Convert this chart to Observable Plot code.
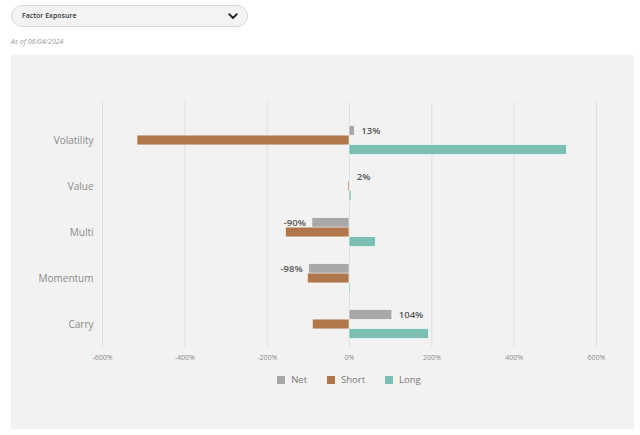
<!DOCTYPE html>
<html>
<head>
<meta charset="utf-8">
<script src="https://cdn.jsdelivr.net/npm/d3@7"></script>
<script src="https://cdn.jsdelivr.net/npm/@observablehq/plot@0.6"></script>
<style>
  html, body { margin: 0; padding: 0; background: #ffffff; }
  body { width: 640px; height: 435px; position: relative; overflow: hidden; font-family: "Open Sans", "Noto Sans", sans-serif; }
  #dropdown { position: absolute; left: 11px; top: 5px; width: 235px; height: 20px; border: 1px solid #d6d6d6; border-radius: 11px; background: #f3f3f3; }
  #dropdown .lbl { position: absolute; left: 10px; top: 0; line-height: 20px; font-size: 7px; font-weight: 600; color: #333; }
  #dropdown svg { position: absolute; left: 216px; top: 7px; }
  #asof { position: absolute; left: 11px; top: 37px; font-size: 7px; font-style: italic; color: #9a9a9a; line-height: 10px; }
  #panel { position: absolute; left: 11px; top: 55px; width: 623px; height: 374px; background: #f2f2f2; }
  #chart { position: absolute; left: 0; top: 0; }
  #legend { position: absolute; left: 91px; width: 494px; top: 308px; display: flex; justify-content: center; }
  .lg-swatch { margin-right: 20px !important; color: #777; }
  .lg-swatch:last-child { margin-right: 0 !important; }
  .lg-swatch svg { margin-right: 6px !important; }
</style>
</head>
<body>
<div id="dropdown"><span class="lbl">Factor Exposure</span>
  <svg width="10" height="7" viewBox="0 0 10 7"><polyline points="1.2,1.2 5,5 8.8,1.2" fill="none" stroke="#222" stroke-width="1.9" stroke-linecap="round" stroke-linejoin="round"/></svg>
</div>
<div id="asof">As of 06/04/2024</div>
<div id="panel"><div id="chart"></div><div id="legend"></div></div>
<script>
// ---- data ----
const categories = ["Volatility", "Value", "Multi", "Momentum", "Carry"];
const series = ["Net", "Short", "Long"];
const netValues = [13, 2, -90, -98, 104];
const shortValues = [-515, -3, -154, -101, -89];
const longValues = [528, 5, 64, 3, 193];
const xTicks = [-600, -400, -200, 0, 200, 400, 600];
const colors = ["#a8a8ab", "#b0784a", "#79c0b2"];

const rows = categories.map((c, i) => ({
  category: c, Net: netValues[i], Short: shortValues[i], Long: longValues[i]
}));

const pct = d => d + "%";
const barStyle = { stroke: "#ffffff", strokeOpacity: 0.7, strokeWidth: 0.8 };

const chart = Plot.plot({
  width: 623,
  height: 320,
  marginLeft: 91,
  marginRight: 38,
  marginTop: 47,
  marginBottom: 28,
  style: { background: "transparent", fontFamily: "'Open Sans', 'Noto Sans', sans-serif", overflow: "visible" },
  x: { domain: [-600, 600], label: null },
  y: { domain: categories, range: [61.4, 292.4], padding: 0, label: null },
  color: { domain: series, range: colors },
  marks: [
    Plot.gridX(xTicks, { stroke: "#dedede", strokeOpacity: 1, strokeWidth: 1 }),
    Plot.axisX(xTicks, { tickSize: 0, tickPadding: 8, fontSize: 7, fill: "#8a8a8a", tickFormat: pct }),
    Plot.axisY({ tickSize: 0, tickPadding: 9, fontSize: 10, fill: "#8a8a8a" }),
    Plot.barX(rows, { y: "category", x: "Net", fill: () => "Net", insetTop: 8.6, insetBottom: 27.6, ...barStyle }),
    Plot.barX(rows, { y: "category", x: "Short", fill: () => "Short", insetTop: 18.1, insetBottom: 18.1, ...barStyle }),
    Plot.barX(rows, { y: "category", x: "Long", fill: () => "Long", insetTop: 27.6, insetBottom: 8.6, ...barStyle }),
    Plot.text(rows.filter(d => d.Net >= 0), { y: "category", x: "Net", text: d => pct(d.Net), dx: 6.5, dy: -9.5, textAnchor: "start", fontSize: 9.5, fontWeight: 600, fill: "#555" }),
    Plot.text(rows.filter(d => d.Net < 0), { y: "category", x: "Net", text: d => pct(d.Net), dx: -6.5, dy: -9.5, textAnchor: "end", fontSize: 9.5, fontWeight: 600, fill: "#555" })
  ]
});
document.getElementById("chart").appendChild(chart);

const legend = Plot.legend({
  color: { type: "ordinal", domain: series, range: colors },
  swatchSize: 8,
  className: "lg",
  style: { fontSize: "9.5px", fontFamily: "'Open Sans', 'Noto Sans', sans-serif", color: "#777", background: "transparent", margin: "0" }
});
document.getElementById("legend").appendChild(legend);
</script>
</body>
</html>
